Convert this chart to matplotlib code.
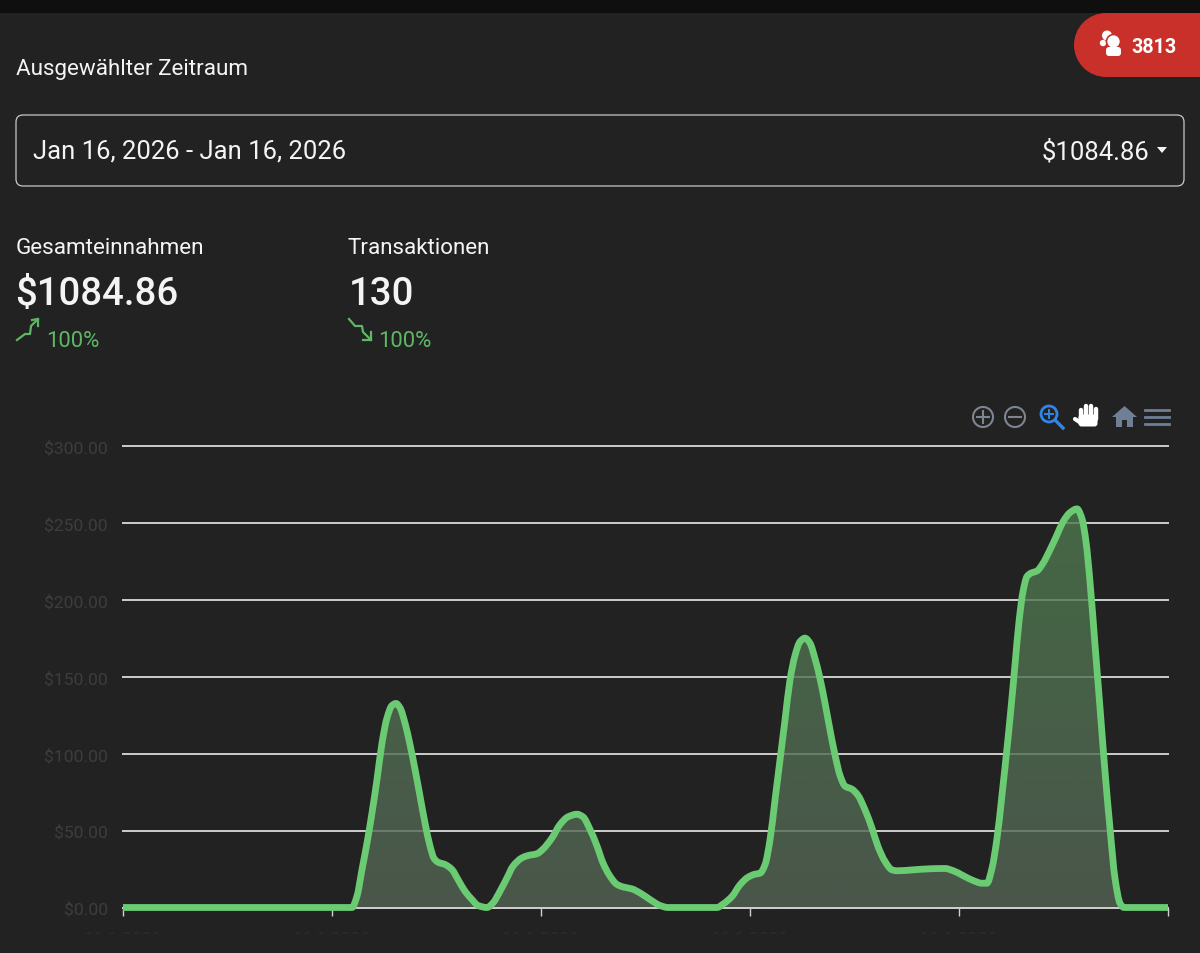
import numpy as np
import matplotlib
matplotlib.use('Agg')
import matplotlib.pyplot as plt
from matplotlib.colors import LinearSegmentedColormap
from matplotlib.patches import Circle, FancyBboxPatch, PathPatch, Polygon, Rectangle
from matplotlib.path import Path
from matplotlib.transforms import Bbox

plt.rcParams['font.family'] = ['Roboto', 'DejaVu Sans']

# position along the time axis (one tick step = 209) and revenue in dollars
x_pos = [0, 229, 234, 239, 244, 249, 254, 259, 264, 269, 273, 277, 282, 287, 292, 297, 302, 307,
         311, 315, 322, 329, 335, 342, 349, 355, 364, 370, 377, 384, 390, 399, 405, 414, 420, 429,
         437, 445, 454, 460, 467, 474, 480, 487, 494, 500, 509, 517, 527, 537, 545, 594, 600, 609,
         617, 625, 632, 637, 642, 647, 652, 657, 662, 667, 672, 677, 682, 687, 692, 697, 702, 707,
         712, 717, 722, 729, 735, 742, 749, 755, 762, 769, 774, 790, 807, 822, 830, 840, 850, 859,
         864, 869, 874, 879, 884, 888, 892, 896, 900, 904, 908, 914, 920, 927, 934, 940, 947, 954,
         959, 963, 967, 972, 977, 982, 987, 992, 997, 1001, 1045]
revenue = [0, 0, 7.4, 24.7, 42, 61.6, 83.3, 107, 123.4, 131.5, 132.8, 130, 120, 106, 90, 72.5, 55, 40,
           32, 29.5, 28, 24.7, 18.2, 10.6, 5.2, 1.3, 0, 3, 10.6, 19.3, 26.9, 32.3, 33.8, 35, 38, 45.3,
           54, 59, 60.7, 59, 50.8, 40, 29, 20.4, 15, 13.4, 12.1, 9.5, 5.2, 1.3, 0, 0, 2.2, 7.2,
           14.8, 19.7, 21.7, 22.3, 27.8, 44, 70, 96, 122, 148, 164, 173, 175.3, 172, 162, 149, 133, 115.6,
           99.3, 86, 79, 77, 73, 63.6, 51.6, 39.7, 30, 24.5, 23.9, 24.5, 25.2, 25.4, 24, 20.8, 17.6, 15.8,
           15.8, 25.6, 45, 73.3, 103.7, 129.7, 158, 186, 205.6, 215.4, 217.6, 219, 224, 232.8, 242.5, 251, 257, 259.4,
           253, 238, 212, 171, 130, 88.5, 51.6, 19, 2.8, 0, 0]

y_ticks = [0, 50, 100, 150, 200, 250, 300]
y_labels = ['$0.00', '$50.00', '$100.00', '$150.00', '$200.00', '$250.00', '$300.00']
x_ticks = [0, 209, 418, 627, 836, 1045]
x_labels = ['16.1.2026', '16.1.2026', '16.1.2026', '16.1.2026', '16.1.2026', '']

W, H = 1200, 954
BG = '#222222'
GREEN = '#6bcb73'
TREND = '#5cb865'
WHITE = '#f4f4f4'
RED = '#c9302a'


def smooth_path(xs, ys):
    # monotone cubic through the read points, as bezier segments
    xs = np.array(xs, dtype=float)
    ys = np.array(ys, dtype=float)
    dx = np.diff(xs)
    slope = np.diff(ys) / dx
    tan = np.zeros(len(xs))
    for i in range(1, len(xs) - 1):
        if slope[i - 1] * slope[i] > 0:
            w1 = 2 * dx[i] + dx[i - 1]
            w2 = dx[i] + 2 * dx[i - 1]
            tan[i] = (w1 + w2) / (w1 / slope[i - 1] + w2 / slope[i])
    verts = [(xs[0], ys[0])]
    codes = [Path.MOVETO]
    for i in range(len(dx)):
        verts.append((xs[i] + dx[i] / 3, ys[i] + tan[i] * dx[i] / 3))
        verts.append((xs[i + 1] - dx[i] / 3, ys[i + 1] - tan[i + 1] * dx[i] / 3))
        verts.append((xs[i + 1], ys[i + 1]))
        codes += [Path.CURVE4, Path.CURVE4, Path.CURVE4]
    return verts, codes


fig = plt.figure(figsize=(W / 100, H / 100), dpi=100, facecolor=BG)

# overlay in image pixels for the page around the chart
page = fig.add_axes([0, 0, 1, 1])
page.set_xlim(0, W)
page.set_ylim(H, 0)
page.axis('off')

page.add_patch(Rectangle((0, 0), W, 14, color='#0f0f0f', lw=0))

# red badge, round on the left and running off the right edge
page.add_patch(Circle((1106, 46), 32, fc=RED, ec='none'))
page.add_patch(Rectangle((1106, 14), 100, 64, fc=RED, ec='none'))
page.add_patch(Circle((1107, 36.5), 5, fc='white', ec='none'))
page.add_patch(Circle((1103, 44), 3.2, fc='white', ec='none'))
page.add_patch(Circle((1113.5, 42.5), 7, fc='white', ec=RED, lw=1.2))
page.add_patch(FancyBboxPatch((1109, 51), 9, 3, boxstyle='round,pad=3,rounding_size=3', fc='white', ec='none'))
page.text(1153.5, 47.5, '3813', color='white', fontsize=14.2, fontweight='bold', ha='center', va='center')

page.text(16, 70, 'Ausgewählter Zeitraum', color=WHITE, fontsize=16.1, va='center')

page.add_patch(FancyBboxPatch((23, 123), 1154, 57, boxstyle='round,pad=7,rounding_size=7',
                              fc='none', ec='#c8c8c8', lw=0.9))
page.text(33, 152, 'Jan 16, 2026 - Jan 16, 2026', color=WHITE, fontsize=18.45, va='center')
page.text(1149, 152, '$1084.86', color=WHITE, fontsize=18.45, va='center', ha='right')
page.add_patch(Polygon([[1157, 148], [1167, 148], [1162, 154]], fc=WHITE, ec='none'))

# summary figures
page.text(16, 249, 'Gesamteinnahmen', color=WHITE, fontsize=16.2, va='center')
page.text(348, 249, 'Transaktionen', color=WHITE, fontsize=16.1, va='center')
page.text(15.5, 295, '$1084.86', color=WHITE, fontsize=27.6, fontweight='medium', va='center')
page.text(349, 295, '130', color=WHITE, fontsize=27.6, fontweight='medium', va='center')
page.text(46.5, 341.5, '100%', color=TREND, fontsize=15.9, va='center')
page.text(378.5, 341.5, '100%', color=TREND, fontsize=15.9, va='center')
page.plot([17, 25, 30, 31, 35, 38], [341, 335, 335, 327, 323, 320], color=TREND, lw=1.6)
page.plot([32, 38, 38], [321, 320, 327], color=TREND, lw=1.6)
page.plot([349, 355, 362, 363, 371], [320, 327, 327, 333, 341], color=TREND, lw=1.6)
page.plot([371, 371, 363], [333, 341, 341], color=TREND, lw=1.6)

# toolbar icons
GREY = '#7d8590'
SLATE = '#6e7f96'
for cx, sign in [(983, '+'), (1015, '-')]:
    page.add_patch(Circle((cx, 418), 10, fc='none', ec=GREY, lw=1.5))
    page.plot([cx - 6, cx + 6], [418, 418], color=GREY, lw=1.5)
    if sign == '+':
        page.plot([cx, cx], [412, 424], color=GREY, lw=1.5)
page.add_patch(Circle((1049, 415), 8, fc='none', ec='#2f86e8', lw=2))
page.plot([1055, 1063], [421, 429], color='#2f86e8', lw=2.4)
page.plot([1045, 1053], [415, 415], color='#2f86e8', lw=1.4)
page.plot([1049, 1049], [411, 419], color='#2f86e8', lw=1.4)
for fx, ftop in [(1081, 411), (1086, 407), (1091, 407), (1096, 410)]:
    page.plot([fx, fx], [ftop, 420], color='white', lw=3.2, solid_capstyle='round')
page.add_patch(FancyBboxPatch((1080, 417), 16, 9, boxstyle='round,pad=1.5,rounding_size=3', fc='white', ec='none'))
page.plot([1075, 1081], [420, 424], color='white', lw=3, solid_capstyle='round')
page.add_patch(Polygon([[1112, 418], [1124.5, 407], [1137, 418], [1133, 418], [1133, 428], [1127, 428],
                        [1127, 421], [1122, 421], [1122, 428], [1116, 428], [1116, 418]], fc=SLATE, ec='none'))
for by in [411, 418, 425]:
    page.plot([1145, 1169], [by, by], color=SLATE, lw=2)

# chart
ax = fig.add_axes([123 / W, 1 - 908.5 / H, (1168 - 123) / W, (908.5 - 447.5) / H])
ax.patch.set_alpha(0)
ax.set_xlim(0, 1045)
ax.set_ylim(0, 300)
for side in ['top', 'right', 'left']:
    ax.spines[side].set_visible(False)
ax.spines['bottom'].set_color('#cdcdcd')
ax.spines['bottom'].set_linewidth(1.4)
ax.set_axisbelow(True)
ax.yaxis.grid(True, color='#cdcdcd', lw=1.4, zorder=1)

ax.set_yticks(y_ticks, y_labels)
ax.set_xticks(x_ticks, x_labels)
ax.tick_params(axis='y', length=0, pad=11, labelsize=12.6, labelcolor='#3d3d3d')
ax.tick_params(axis='x', length=6, width=1, color='#d0d0d0', pad=11, labelsize=12.6, labelcolor='#2d2d2d')

# the top gridline sits exactly on the axes edge
for line in ax.get_ygridlines():
    line.set_clip_on(False)

# only the top edge of the date labels is visible in the screenshot
cut = Bbox([[0, H - 935], [W, H]])
for lab in ax.get_xticklabels():
    lab.set_clip_box(cut)
    lab.set_clip_on(True)

verts, codes = smooth_path(x_pos, revenue)

fade = LinearSegmentedColormap.from_list('fade', [(84 / 255, 100 / 255, 85 / 255, 0.8),
                                                  (78 / 255, 122 / 255, 78 / 255, 0.8)])
grad = ax.imshow(np.linspace(0, 1, 256).reshape(-1, 1), extent=[0, 1045, 0, 260], origin='lower',
                 cmap=fade, aspect='auto', zorder=2)
closed = Path(verts + [(1045, 0), (0, 0), (0, 0)], codes + [Path.LINETO, Path.LINETO, Path.CLOSEPOLY])
grad.set_clip_path(closed, transform=ax.transData)
ax.set_xlim(0, 1045)
ax.set_ylim(0, 300)

ax.add_patch(PathPatch(Path(verts, codes), fc='none', ec=GREEN, lw=4.9, clip_on=False, zorder=3,
                       capstyle='butt', joinstyle='round'))

fig.savefig('out.png', dpi=100, facecolor=BG)
